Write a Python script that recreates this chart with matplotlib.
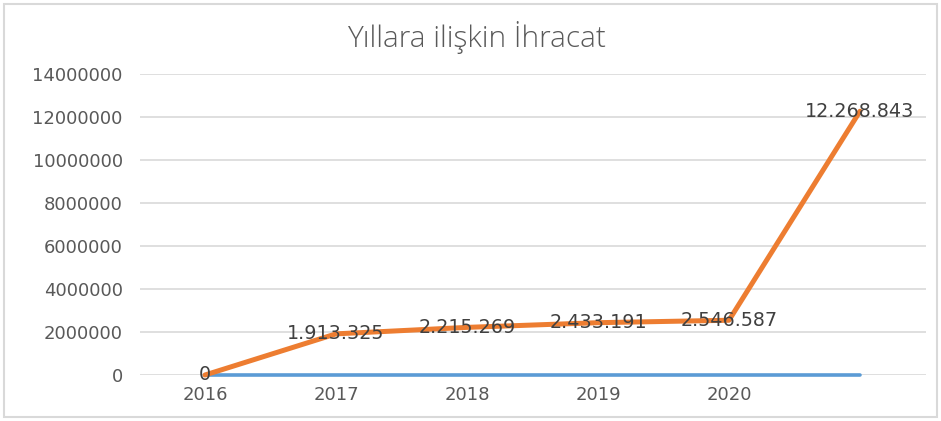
import numpy as np
import matplotlib.pyplot as plt

# yıllar (6. kategori etiketsiz)
years = ['2016', '2017', '2018', '2019', '2020', '']
ihracat = [0, 1913325, 2215269, 2433191, 2546587, 12268843]
mavi_seri = [0, 0, 0, 0, 0, 0]
etiketler = ['0', '1.913.325', '2.215.269', '2.433.191', '2.546.587', '12.268.843']

fig = plt.figure(figsize=(9.41, 4.21), dpi=100)
ax = fig.add_axes([139.5 / 941, 46 / 421, 786 / 941, 301 / 421])

x = np.arange(len(years))
ax.plot(x, mavi_seri, color='#5B9BD5', linewidth=2.6, solid_capstyle='round', zorder=3, clip_on=False)
ax.plot(x, ihracat, color='#ED7D31', linewidth=3.6, solid_capstyle='round', zorder=4, clip_on=False)

for i in x:
    ax.text(i, ihracat[i], etiketler[i], ha='center', va='center',
            fontsize=13.8, color='#404040', family='DejaVu Sans', zorder=5)

ax.set_xlim(-0.5, 5.5)
ax.set_ylim(0, 14000000)
ax.set_yticks(np.arange(0, 14000001, 2000000))
ax.set_yticklabels([str(v) for v in range(0, 14000001, 2000000)])
ax.set_xticks(x)
ax.set_xticklabels(years)
ax.tick_params(axis='both', length=0, labelsize=13, labelcolor='#595959')
ax.tick_params(axis='y', pad=12)
ax.tick_params(axis='x', pad=8)
ax.grid(axis='y', color='#D9D9D9', linewidth=1.2)
ax.set_axisbelow(True)
for s in ax.spines.values():
    s.set_visible(False)

fig.text(476 / 941, 1 - 37 / 421, 'Yıllara ilişkin İhracat', ha='center', va='center',
         fontsize=21.5, color='#595959', family='Open Sans', fontweight='light')

# çerçeve
fig.patches.append(plt.Rectangle((4 / 941, 4 / 421), 933 / 941, 413 / 421, transform=fig.transFigure,
                                 fill=False, edgecolor='#D9D9D9', linewidth=1.5))

fig.savefig('out.png', dpi=100)
